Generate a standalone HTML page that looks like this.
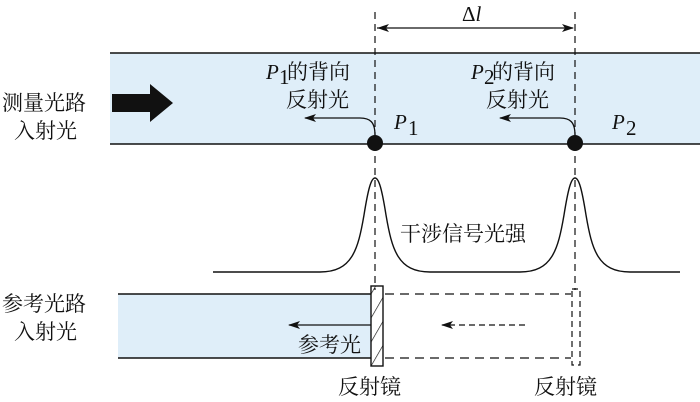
<!DOCTYPE html>
<html><head><meta charset="utf-8"><style>
body{margin:0;background:#fff}
svg{display:block}
text{font-family:"Liberation Serif","Noto Serif CJK SC","Noto Sans CJK SC",serif;font-size:21px;fill:#111}
</style></head><body>
<svg width="700" height="402" viewBox="0 0 700 402" xmlns="http://www.w3.org/2000/svg">
<defs>
<marker id="ah" markerWidth="12" markerHeight="8" refX="11" refY="4" orient="auto" markerUnits="userSpaceOnUse"><path d="M0,0 L12,4 L0,8 L3,4 Z" fill="#111"/></marker>
<pattern id="hatch" width="12" height="12" patternUnits="userSpaceOnUse" patternTransform="rotate(30)"><line x1="0" y1="0" x2="0" y2="12" stroke="#111" stroke-width="1.3"/></pattern>
</defs>
<rect x="110" y="53" width="590" height="91" fill="#dfeef9"/>
<line x1="110" y1="53" x2="700" y2="53" stroke="#111" stroke-width="1.5"/>
<line x1="110" y1="144" x2="700" y2="144" stroke="#111" stroke-width="1.5"/>
<line x1="375" y1="12" x2="375" y2="290" stroke="#111" stroke-width="1.2" stroke-dasharray="7,5"/>
<line x1="575" y1="12" x2="575" y2="290" stroke="#111" stroke-width="1.2" stroke-dasharray="7,5"/>
<line x1="377" y1="28" x2="573" y2="28" stroke="#111" stroke-width="1.3" marker-end="url(#ah)"/>
<path d="M389,24 L377,28 L389,32 L386,28Z" fill="#111"/>
<text x="462" y="21">Δ<tspan font-style="italic">l</tspan></text>
<path d="M112,94 L150,94 L150,84 L173,103 L150,122 L150,112 L112,112Z" fill="#111"/>
<path d="M118,314 L157,314 L157,303 L179,323 L157,343 L157,332 L118,332Z" fill="#111"/>
<text x="2" y="110">测量光路</text>
<text x="14" y="138">入射光</text>
<text x="2" y="311">参考光路</text>
<text x="14" y="339">入射光</text>
<circle cx="375" cy="143" r="8" fill="#111"/>
<circle cx="575" cy="143" r="8" fill="#111"/>
<path d="M375,135 C375,122 370,118 360,118 L305,118" fill="none" stroke="#111" stroke-width="1.3" marker-end="url(#ah)"/>
<path d="M575,135 C575,122 570,118 560,118 L500,118" fill="none" stroke="#111" stroke-width="1.3" marker-end="url(#ah)"/>
<text x="266" y="79" font-style="italic">P</text><text x="279" y="84" font-size="13">1</text><text x="287" y="79">的背向</text>
<text x="286" y="107">反射光</text>
<text x="471" y="79" font-style="italic">P</text><text x="484" y="84" font-size="13">2</text><text x="492" y="79">的背向</text>
<text x="486" y="107">反射光</text>
<text x="394" y="129" font-style="italic">P</text><text x="408" y="135" font-size="13">1</text>
<text x="612" y="129" font-style="italic">P</text><text x="626" y="135" font-size="13">2</text>
<path d="M213,272 L320,272 C352,272 358,250 364,215 C368,190 371,178 375,178 C379,178 382,190 386,215 C392,250 398,272 430,272 L520,272 C552,272 558,250 564,215 C568,190 571,178 575,178 C579,178 582,190 586,215 C592,250 598,272 630,272 L680,272" fill="none" stroke="#111" stroke-width="1.4"/>
<text x="400" y="241">干涉信号光强</text>
<rect x="118" y="294" width="253" height="64" fill="#dfeef9"/>
<line x1="118" y1="294" x2="371" y2="294" stroke="#111" stroke-width="1.4"/>
<line x1="118" y1="358" x2="371" y2="358" stroke="#111" stroke-width="1.4"/>
<line x1="385" y1="294" x2="571" y2="294" stroke="#111" stroke-width="1.3" stroke-dasharray="9,6"/>
<line x1="385" y1="358" x2="571" y2="358" stroke="#111" stroke-width="1.3" stroke-dasharray="9,6"/>
<rect x="371" y="286" width="12" height="80" fill="url(#hatch)" stroke="#111" stroke-width="1.4"/>
<rect x="572" y="289" width="8" height="76" fill="none" stroke="#111" stroke-width="1.2" stroke-dasharray="6,4"/>
<line x1="371" y1="325" x2="289" y2="325" stroke="#111" stroke-width="1.3" marker-end="url(#ah)"/>
<line x1="525" y1="325" x2="442" y2="325" stroke="#111" stroke-width="1.3" stroke-dasharray="6,4" marker-end="url(#ah)"/>
<text x="298" y="352">参考光</text>
<text x="338" y="394">反射镜</text>
<text x="534" y="394">反射镜</text>
</svg>
</body></html>
